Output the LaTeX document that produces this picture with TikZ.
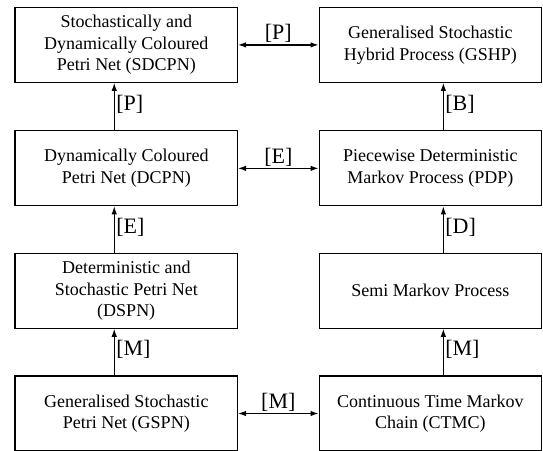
\documentclass[tikz,border=0pt]{standalone}
\usepackage{fontspec}
\setmainfont{Liberation Serif}
\usetikzlibrary{arrows.meta}
\begin{document}
\begin{tikzpicture}[x=1pt,y=-1pt,
  model/.style={draw, line width=1.1pt, minimum width=222.5pt, minimum height=75pt,
    align=center, inner sep=0pt, font=\fontsize{18}{21.6}\selectfont},
  lbl/.style={font=\fontsize{22}{26}\selectfont, inner sep=1.5pt},
  link/.style={line width=1pt, -{Latex[length=8pt,width=5.5pt]}},
  twoway/.style={line width=1.2pt, {Latex[length=8pt,width=5.5pt]}-{Latex[length=8pt,width=5.5pt]}}]
\useasboundingbox (0,0) rectangle (543,450);
\clip (0,0) rectangle (543,450);

% Petri net formalisms (left column)
\node[model] (sdcpn) at (126.25,44.9) {Stochastically and\\Dynamically Coloured\\Petri Net (SDCPN)};
\node[model] (dcpn)  at (126.25,168.35) {Dynamically Coloured\\Petri Net (DCPN)};
\node[model] (dspn)  at (126.25,290.8) {Deterministic and\\Stochastic Petri Net\\(DSPN)};
\node[model] (gspn)  at (126.25,413.5) {Generalised Stochastic\\Petri Net (GSPN)};

% Stochastic process classes (right column)
\node[model] (gshp)  at (430.35,44.9) {Generalised Stochastic\\Hybrid Process (GSHP)};
\node[model] (pdp)   at (430.35,168.35) {Piecewise Deterministic\\Markov Process (PDP)};
\node[model] (smp)   at (430.35,290.8) {Semi Markov Process};
\node[model] (ctmc)  at (430.35,413.5) {Continuous Time Markov\\Chain (CTMC)};

% Generalisation arrows
\draw[link] ([xshift=-12pt]dcpn.north) -- node[lbl, right, pos=0.55] {[P]} ([xshift=-12pt]sdcpn.south);
\draw[link] ([xshift=-12pt]dspn.north) -- node[lbl, right, pos=0.55] {[E]} ([xshift=-12pt]dcpn.south);
\draw[link] ([xshift=-12pt]gspn.north) -- node[lbl, right, pos=0.55] {[M]} ([xshift=-12pt]dspn.south);
\draw[link] ([xshift=13pt]pdp.north) -- node[lbl, right, pos=0.55] {[B]} ([xshift=13pt]gshp.south);
\draw[link] ([xshift=13pt]smp.north) -- node[lbl, right, pos=0.55] {[D]} ([xshift=13pt]pdp.south);
\draw[link] ([xshift=13pt]ctmc.north) -- node[lbl, right, pos=0.55] {[M]} ([xshift=13pt]smp.south);

% Equivalences between the columns
\draw[twoway] (sdcpn.east) -- node[lbl, above] {[P]} (gshp.west);
\draw[twoway] (dcpn.east) -- node[lbl, above] {[E]} (pdp.west);
\draw[twoway] (gspn.east) -- node[lbl, above] {[M]} (ctmc.west);
\end{tikzpicture}
\end{document}
